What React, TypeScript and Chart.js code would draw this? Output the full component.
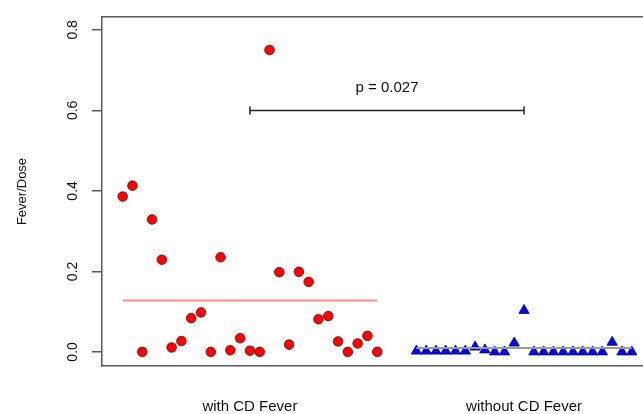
import React, { useEffect, useRef } from "react";
import { Chart, registerables } from "chart.js";

Chart.register(...registerables);

const groupLabels = ["with CD Fever", "without CD Fever"];
const groupCenters = [14, 42];
const yTicks = [0, 0.2, 0.4, 0.6, 0.8];

const withFever = [
  0.386, 0.413, 0, 0.329, 0.229, 0.011, 0.027, 0.084, 0.098, 0, 0.235, 0.004, 0.034, 0.003,
  0, 0.75, 0.198, 0.018, 0.199, 0.174, 0.081, 0.089, 0.026, 0, 0.021, 0.04, 0,
];
const withoutFever = [
  0.002, 0.002, 0.002, 0.002, 0.002, 0.002, 0.012, 0.005, 0, 0, 0.022, 0.103, 0, 0, 0, 0, 0, 0,
  0, 0, 0.024, 0, 0,
];
const withStart = 1;
const withoutStart = 31;
const withMean = 0.128;
const withoutMean = 0.01;
const bracketY = 0.6;
const pLabel = "p = 0.027";
const pLabelY = 0.657;

const FONT = '"Liberation Sans", Arial, Helvetica, sans-serif';
const AXIS = "#5a5a5a";

export default function App() {
  const ref = useRef<HTMLCanvasElement | null>(null);

  useEffect(() => {
    if (!ref.current) return;
    const redPts = withFever.map((v, i) => ({ x: withStart + i, y: v }));
    const bluePts = withoutFever.map((v, i) => ({ x: withoutStart + i, y: v }));
    const redEnd = withStart + withFever.length - 1;
    const blueEnd = withoutStart + withoutFever.length - 1;

    const annot = {
      id: "annot",
      afterDraw(chart: any) {
        const { ctx, scales } = chart;
        const y = scales.y;
        const x = scales.x;
        ctx.save();
        ctx.fillStyle = "#111";
        ctx.textAlign = "center";
        ctx.textBaseline = "middle";
        ctx.font = `14px ${FONT}`;
        for (const v of yTicks) {
          ctx.save();
          ctx.translate(y.right - 29, y.getPixelForValue(v));
          ctx.rotate(-Math.PI / 2);
          ctx.fillText(v.toFixed(1), 0, 0);
          ctx.restore();
        }
        ctx.font = `15px ${FONT}`;
        ctx.fillText(
          pLabel,
          x.getPixelForValue((groupCenters[0] + groupCenters[1]) / 2),
          y.getPixelForValue(pLabelY)
        );
        ctx.restore();
      },
    };

    const noPad = (s: any) => {
      s.paddingLeft = 0;
      s.paddingRight = 0;
      s.paddingTop = 0;
      s.paddingBottom = 0;
    };

    const chart = new Chart(ref.current, {
      type: "scatter",
      data: {
        datasets: [
          {
            type: "line",
            data: [
              { x: withStart, y: withMean },
              { x: redEnd, y: withMean },
            ],
            borderColor: "#ff8a8a",
            borderWidth: 2,
            pointRadius: 0,
          },
          {
            type: "line",
            data: [
              { x: withoutStart, y: withoutMean },
              { x: blueEnd, y: withoutMean },
            ],
            borderColor: "#9a9a9a",
            borderWidth: 2,
            pointRadius: 0,
          },
          {
            type: "line",
            data: [
              { x: groupCenters[0], y: bracketY },
              { x: groupCenters[1], y: bracketY },
            ],
            borderColor: "#222",
            borderWidth: 1.5,
            pointStyle: "line",
            rotation: 90,
            pointRadius: 4,
            pointBorderWidth: 1.5,
            pointBorderColor: "#222",
          } as any,
          {
            data: redPts,
            backgroundColor: "#ff0000",
            borderColor: "#7a0000",
            borderWidth: 0.8,
            pointRadius: 4.8,
            pointStyle: "circle",
          },
          {
            data: bluePts,
            backgroundColor: "#0808e6",
            borderColor: "#000088",
            borderWidth: 0.8,
            pointRadius: 6,
            pointStyle: "triangle",
          },
        ],
      },
      options: {
        animation: false,
        responsive: false,
        devicePixelRatio: 1,
        layout: { padding: 0, autoPadding: false },
        plugins: { legend: { display: false }, tooltip: { enabled: false } },
        scales: {
          x: {
            type: "linear",
            position: "bottom",
            min: -1.11,
            max: 54.15,
            afterFit: (s: any) => {
              s.height = 48;
              noPad(s);
            },
            afterBuildTicks: (s: any) => {
              s.ticks = groupCenters.map((v) => ({ value: v }));
            },
            ticks: {
              padding: 32,
              color: "#111",
              font: { family: FONT, size: 15 },
              maxRotation: 0,
              autoSkip: false,
              callback: (v: any) => {
                const i = groupCenters.indexOf(Number(v));
                return i >= 0 ? groupLabels[i] : "";
              },
            },
            grid: { display: false, drawTicks: false },
            border: { display: true, color: AXIS, width: 1.5 },
          },
          xTop: {
            type: "linear",
            position: "top",
            min: -1.11,
            max: 54.15,
            afterFit: (s: any) => {
              s.height = 17;
              noPad(s);
            },
            ticks: { display: false },
            grid: { display: false, drawTicks: false },
            border: { display: true, color: AXIS, width: 1.5 },
          },
          y: {
            type: "linear",
            position: "left",
            min: -0.035,
            max: 0.832,
            afterFit: (s: any) => {
              s.width = 102;
              noPad(s);
            },
            afterBuildTicks: (s: any) => {
              s.ticks = yTicks.map((v) => ({ value: v }));
            },
            ticks: { display: false },
            grid: {
              drawOnChartArea: false,
              drawTicks: true,
              tickLength: 10,
              color: AXIS,
              lineWidth: 1.5,
            },
            border: { display: true, color: AXIS, width: 1.5 },
            title: {
              display: true,
              text: "Fever/Dose",
              color: "#111",
              font: { family: FONT, size: 13 },
              padding: { top: 15, bottom: 0 },
            },
          },
        },
      },
      plugins: [annot],
    });
    return () => chart.destroy();
  }, []);

  return (
    <div style={{ position: "absolute", left: 0, top: 0, width: 643, height: 414, background: "#fff" }}>
      <canvas ref={ref} width={643} height={414} style={{ display: "block" }} />
    </div>
  );
}
